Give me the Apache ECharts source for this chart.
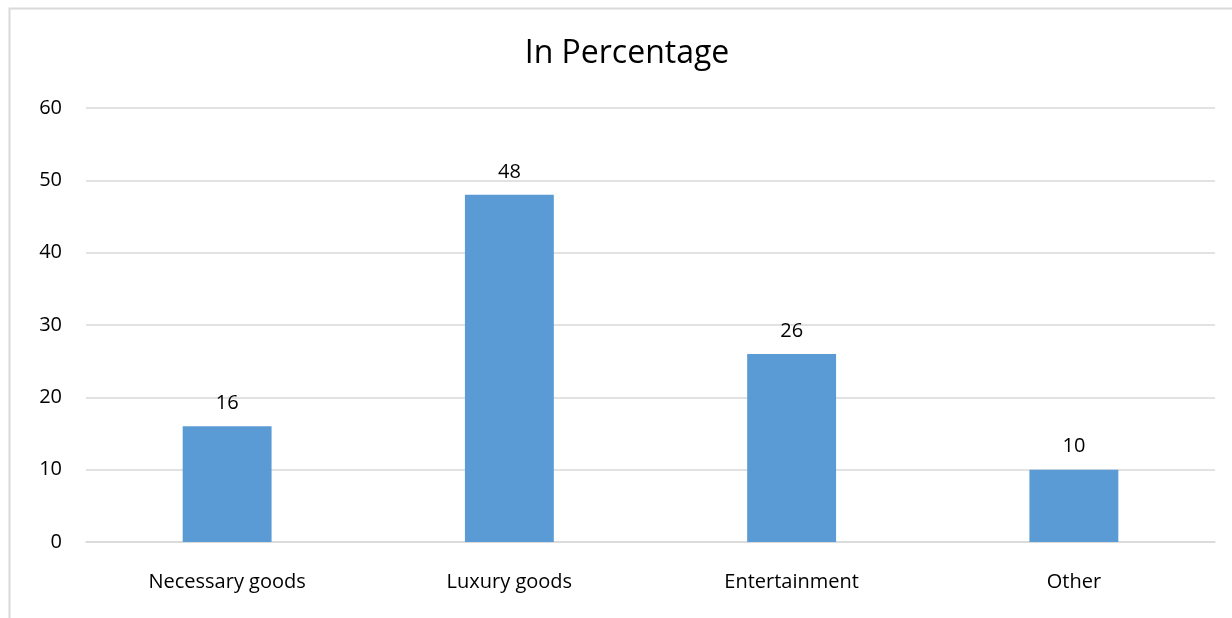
<!DOCTYPE html>
<html>
<head>
<meta charset="utf-8">
<script src="https://cdn.jsdelivr.net/npm/echarts@6/dist/echarts.min.js"></script>
<style>
html, body { margin: 0; padding: 0; background: #fff; }
#myChart { width: 1232px; height: 618px; }
</style>
</head>
<body>
<div id="myChart"></div>
<script>
// data
var categories = ['Necessary goods', 'Luxury goods', 'Entertainment', 'Other'];
var percentValues = [16, 48, 26, 10];
var yTicks = { min: 0, max: 60, interval: 10 };

var fontName = 'Open Sans';

var myChart = echarts.init(document.getElementById('myChart'));
var option = {
  backgroundColor: '#fff',
  animation: false,
  title: {
    text: 'In Percentage',
    left: 622,
    top: 33,
    textAlign: 'center',
    textStyle: { fontFamily: fontName, fontSize: 32, fontWeight: 'normal', color: '#000' }
  },
  // outer chart border
  graphic: [{
    type: 'rect',
    shape: { x: 9.5, y: 8.5, width: 1240, height: 640 },
    style: { fill: 'none', stroke: '#d9d9d9', lineWidth: 2 },
    silent: true
  }],
  grid: { left: 86, right: 17, top: 108, bottom: 76 },
  xAxis: {
    type: 'category',
    data: categories,
    axisLine: { show: true, lineStyle: { color: '#d9d9d9', width: 1.5 } },
    axisTick: { show: false },
    axisLabel: { fontFamily: fontName, fontSize: 20, color: '#000', margin: 30 }
  },
  yAxis: {
    type: 'value',
    min: yTicks.min,
    max: yTicks.max,
    interval: yTicks.interval,
    axisLine: { show: false },
    axisTick: { show: false },
    axisLabel: { fontFamily: fontName, fontSize: 20, color: '#000', margin: 24 },
    splitLine: { lineStyle: { color: '#d9d9d9', width: 1.5 } }
  },
  series: [{
    type: 'bar',
    data: percentValues,
    barWidth: '31.5%',
    itemStyle: { color: '#5b9bd5' },
    label: {
      show: true,
      position: 'top',
      distance: 13,
      fontFamily: fontName,
      fontSize: 20,
      color: '#000'
    }
  }]
};
myChart.setOption(option);
</script>
</body>
</html>
